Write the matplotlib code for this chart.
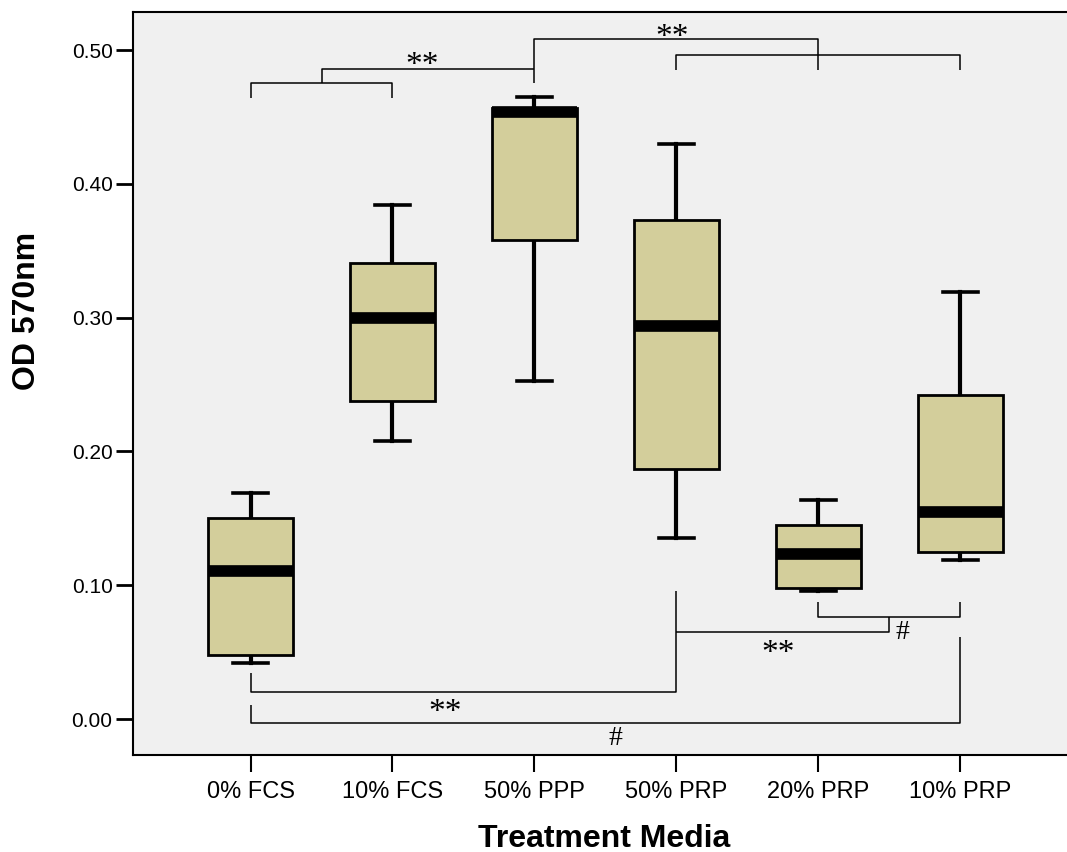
import matplotlib
matplotlib.use('Agg')
import matplotlib.pyplot as plt

plt.rcParams['font.family'] = ['Liberation Sans', 'DejaVu Sans']

# box statistics
groups = ['0% FCS', '10% FCS', '50% PPP', '50% PRP', '20% PRP', '10% PRP']
whisker_low = [0.042, 0.208, 0.253, 0.135, 0.096, 0.119]
q1 = [0.048, 0.238, 0.358, 0.187, 0.098, 0.125]
median = [0.111, 0.300, 0.454, 0.294, 0.123, 0.155]
q3 = [0.150, 0.341, 0.457, 0.373, 0.145, 0.242]
whisker_high = [0.169, 0.384, 0.465, 0.430, 0.164, 0.319]

y_ticks = [0.0, 0.1, 0.2, 0.3, 0.4, 0.5]

# significance brackets: polylines in (group index, OD) units
brackets = [
    [(0, 0.464), (0, 0.4756), (1, 0.4756), (1, 0.464)],
    [(0.5, 0.4756), (0.5, 0.486), (2, 0.486)],
    [(2, 0.4756), (2, 0.508), (4, 0.508), (4, 0.485)],
    [(3, 0.485), (3, 0.4966), (5, 0.4966), (5, 0.485)],
    [(0, 0.0342), (0, 0.0200), (3, 0.0200), (3, 0.0959)],
    [(0, 0.0105), (0, -0.0032), (5, -0.0032), (5, 0.0615)],
    [(3, 0.0653), (4.5, 0.0653), (4.5, 0.076)],
    [(4, 0.0872), (4, 0.076), (5, 0.076), (5, 0.0872)],
]
marks = [
    ('**', 1.21, 0.488),
    ('**', 2.97, 0.509),
    ('**', 1.37, 0.0045),
    ('#', 2.57, -0.0147),
    ('**', 3.72, 0.0485),
    ('#', 4.59, 0.065),
]

BOX_COLOR = '#d3ce9b'
BG_COLOR = '#f0f0f0'

fig = plt.figure(figsize=(10.67, 8.52), dpi=100)
ax = fig.add_axes([0.1244, 0.1133, 0.886, 0.8726])
ax.set_facecolor(BG_COLOR)

stats = []
for i, name in enumerate(groups):
    stats.append({'label': name, 'whislo': whisker_low[i], 'q1': q1[i], 'med': median[i],
                  'q3': q3[i], 'whishi': whisker_high[i], 'fliers': []})

ax.bxp(stats, positions=range(len(groups)), widths=0.6, capwidths=0.25,
       patch_artist=True, showfliers=False,
       boxprops=dict(facecolor=BOX_COLOR, edgecolor='black', linewidth=2.0, zorder=3),
       medianprops=dict(color='black', linewidth=8.4, solid_capstyle='butt', zorder=4),
       whiskerprops=dict(color='black', linewidth=3.0, zorder=2),
       capprops=dict(color='black', linewidth=2.6, zorder=2))

for line in brackets:
    xs = [p[0] for p in line]
    ys = [p[1] for p in line]
    ax.plot(xs, ys, color='black', linewidth=1.1, solid_capstyle='butt')

for txt, x, y in marks:
    size = 24 if txt == '**' else 20
    ax.text(x, y, txt, ha='center', va='center', fontsize=size,
            family=['Liberation Serif', 'DejaVu Serif'])

ax.set_xlim(-0.83, 5.83)
ax.set_ylim(-0.0272, 0.5284)
ax.set_yticks(y_ticks)
ax.set_yticklabels([f'{v:.2f}' for v in y_ticks], fontsize=15)
ax.set_xticks(range(len(groups)))
ax.set_xticklabels(groups, fontsize=17)
ax.tick_params(axis='y', length=12.5, width=2, pad=2)
ax.tick_params(axis='x', length=12.5, width=1.5, pad=6)

for side in ['left', 'top', 'bottom']:
    ax.spines[side].set_linewidth(1.5)
ax.spines['right'].set_visible(False)

fig.text(27 / 1067, 1 - 311 / 852, 'OD 570nm', rotation=90, ha='center', va='center',
         fontsize=23, fontweight='bold')
fig.text(604.5 / 1067, 1 - 847 / 852, 'Treatment Media', ha='center', va='baseline',
         fontsize=23, fontweight='bold')

fig.savefig('out.png', dpi=100)
